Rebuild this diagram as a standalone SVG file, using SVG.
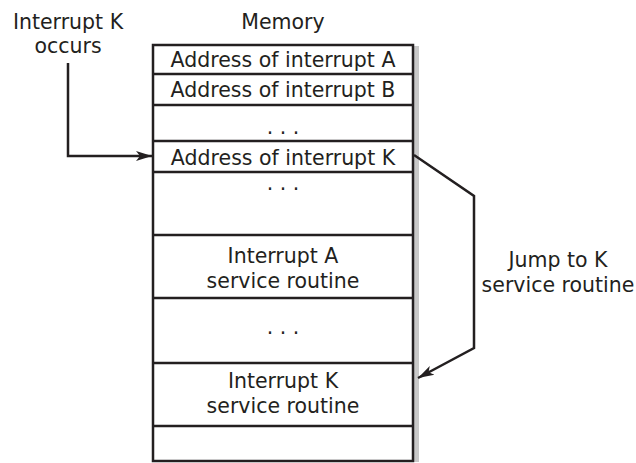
<svg xmlns="http://www.w3.org/2000/svg" width="636" height="463" viewBox="0 0 636 463">
  <defs>
    <style>
      .t { font-family: "DejaVu Sans", "Liberation Sans", sans-serif; font-size: 20.5px; fill: #231f20; text-anchor: middle; }
      .box { fill: #ffffff; stroke: #231f20; stroke-width: 2.5; }
      .div { stroke: #231f20; stroke-width: 2.5; }
      .conn { fill: none; stroke: #231f20; stroke-width: 2.5; stroke-linejoin: miter; }
    </style>
    <marker id="arr" markerUnits="userSpaceOnUse" markerWidth="18" markerHeight="12" refX="16" refY="6" orient="auto" viewBox="0 0 18 12">
      <path d="M0,1 L16,6 L0,11 L4,6 Z" fill="#231f20"/>
    </marker>
  </defs>
  <rect width="636" height="463" fill="#ffffff"/>

  <g id="labels">
    <text class="t" x="68" y="29">Interrupt K</text>
    <text class="t" x="68" y="53">occurs</text>
    <text class="t" x="283" y="29">Memory</text>
    <text class="t" x="558" y="267">Jump to K</text>
    <text class="t" x="558" y="292">service routine</text>
  </g>

  <g id="memory">
    <rect x="414" y="46" width="5" height="416" fill="#c8c8c8"/>
    <rect class="box" x="153" y="45" width="260" height="416"/>
    <line class="div" x1="153" y1="74" x2="413" y2="74"/>
    <line class="div" x1="153" y1="105" x2="413" y2="105"/>
    <line class="div" x1="153" y1="141" x2="413" y2="141"/>
    <line class="div" x1="153" y1="172" x2="413" y2="172"/>
    <line class="div" x1="153" y1="235" x2="413" y2="235"/>
    <line class="div" x1="153" y1="298" x2="413" y2="298"/>
    <line class="div" x1="153" y1="363" x2="413" y2="363"/>
    <line class="div" x1="153" y1="426" x2="413" y2="426"/>
  </g>

  <g id="row-addr-a"><text class="t" x="283" y="67">Address of interrupt A</text></g>
  <g id="row-addr-b"><text class="t" x="283" y="97">Address of interrupt B</text></g>
  <g id="row-dots-1"><text class="t" x="283" y="134">. . .</text></g>
  <g id="row-addr-k"><text class="t" x="283" y="165">Address of interrupt K</text></g>
  <g id="row-dots-2"><text class="t" x="283" y="190">. . .</text></g>
  <g id="row-isr-a">
    <text class="t" x="283" y="263">Interrupt A</text>
    <text class="t" x="283" y="288">service routine</text>
  </g>
  <g id="row-dots-3"><text class="t" x="283" y="334">. . .</text></g>
  <g id="row-isr-k">
    <text class="t" x="283" y="388">Interrupt K</text>
    <text class="t" x="283" y="413">service routine</text>
  </g>

  <g id="connectors">
    <polyline class="conn" points="68,63 68,156 152,156" marker-end="url(#arr)"/>
    <polyline class="conn" points="414,155 474,196 474,348 418,378" marker-end="url(#arr)"/>
  </g>
</svg>
